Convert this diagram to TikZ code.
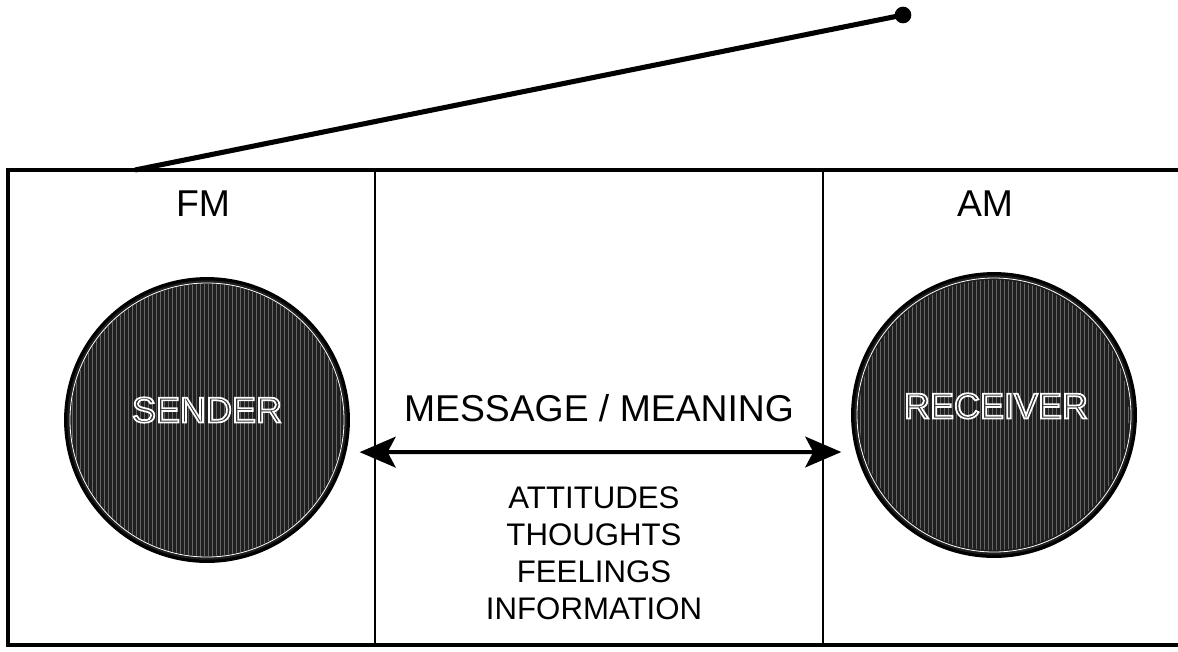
\documentclass[tikz,border=0pt]{standalone}
\usepackage{fontspec}
\setmainfont{Liberation Sans}
\usetikzlibrary{arrows.meta,patterns}
\tikzset{
  frame/.style={line width=3.6pt},
  divider/.style={line width=0.8pt},
  dial/.style={circle, draw=black, line width=2.4pt, minimum size=212pt, inner sep=0pt,
    fill=black!88},
  ring/.style={draw=white, line width=0.6pt},
  dialtxt/.style={font=\fontsize{27}{30}\selectfont, text=black!80},
  band/.style={font=\fontsize{28}{32}\selectfont},
  msg/.style={font=\fontsize{28}{32}\selectfont},
  items/.style={font=\fontsize{23.4}{27.8}\selectfont, align=center},
  link/.style={line width=3pt, {Stealth[length=27pt,width=23pt,inset=6pt]}-{Stealth[length=27pt,width=23pt,inset=6pt]}},
  aerial/.style={line width=3.8pt},
  knob/.style={circle, fill=black, inner sep=0pt, minimum size=12.5pt}
}
\newcommand{\dialtext}[1]{\special{pdf:literal direct 2 Tr 1 G 1.3 w}#1\special{pdf:literal direct 0 Tr 0 G 0.4 w}}
\begin{document}
\begin{tikzpicture}[x=0.75pt,y=-0.75pt]
\useasboundingbox (0,0) rectangle (1178,651);
% frame
\draw[frame] (1195,170) -- (8,170) -- (8,645) -- (1195,645);
\draw[divider] (375,170) -- (375,645);
\draw[divider] (823,170) -- (823,645);
% aerial
\coordinate (base) at (135,170);
\node[knob] (tip) at (903,15) {};
\draw[aerial] (base) -- (tip.center);
% band labels
\node[band] (fm) at (203,204) {FM};
\node[band] (am) at (985,204) {AM};
% dials
\node[dial] (sender) at (207,420) {};
\fill[pattern=vertical lines, pattern color=black!60] (207,420) circle[radius=136];
\draw[ring] (207,420) circle[radius=137];
\node[dialtxt] (sendertxt) at (207,410) {\dialtext{SENDER}};
\node[dial] (receiver) at (994,415) {};
\fill[pattern=vertical lines, pattern color=black!60] (994,415) circle[radius=135];
\draw[ring] (994,415) circle[radius=137];
\node[dialtxt] (receivertxt) at (996,406) {\dialtext{RECEIVER}};
% message
\node[msg] (message) at (599,408) {MESSAGE / MEANING};
\draw[link, shorten <=10pt, shorten >=11pt] (sender.-13) -- (receiver.195.2);
\node[items, anchor=north] (list) at (594,482) {ATTITUDES\\THOUGHTS\\FEELINGS\\INFORMATION};
\end{tikzpicture}
\end{document}
